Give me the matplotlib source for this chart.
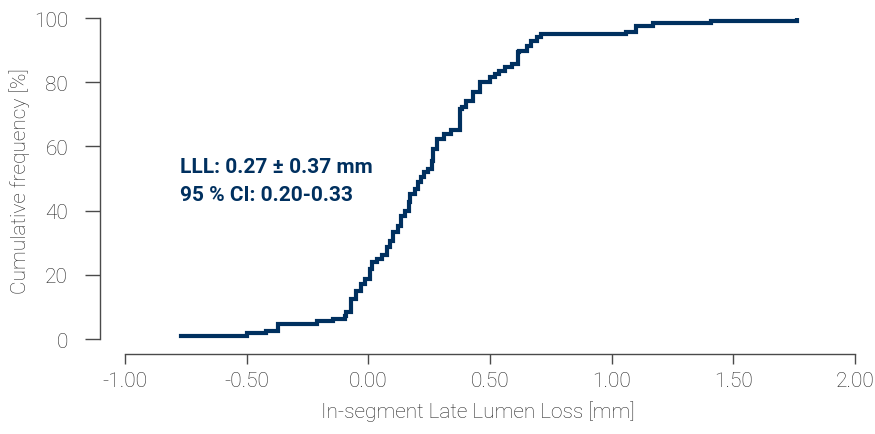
import matplotlib
matplotlib.use("Agg")
import matplotlib.pyplot as plt

# === DATOS ===
# posiciones de los escalones (LLL en mm) y frecuencia acumulada tras cada escalón (%)
lll = [-0.77, -0.50, -0.42, -0.37, -0.21, -0.146, -0.096, -0.092, -0.07, -0.05,
       -0.03, -0.014, 0.007, 0.014, 0.034, 0.055, 0.076, 0.09, 0.10, 0.12,
       0.135, 0.15, 0.165, 0.17, 0.19, 0.205, 0.215, 0.23, 0.245, 0.26,
       0.265, 0.28, 0.31, 0.34, 0.377, 0.385, 0.40, 0.43, 0.46, 0.50,
       0.52, 0.535, 0.56, 0.59, 0.615, 0.62, 0.65, 0.67, 0.695, 0.71,
       1.06, 1.10, 1.17, 1.41, 1.76]
freq = [1.0, 1.9, 2.6, 4.7, 5.5, 6.2, 7.3, 8.5, 12.5, 15.0,
        17.1, 18.7, 21.8, 23.9, 24.9, 26.2, 28.6, 30.6, 33.2, 35.3,
        38.4, 40.0, 42.6, 45.2, 46.7, 48.8, 50.4, 51.9, 53.0, 55.5,
        59.2, 62.3, 63.9, 65.2, 71.7, 72.2, 74.2, 76.9, 80.0, 81.5,
        82.6, 83.6, 84.7, 85.7, 89.3, 89.8, 91.4, 92.9, 94.0, 95.0,
        95.7, 97.4, 98.3, 99.2, 100.0]

x_ticks = [-1.0, -0.5, 0.0, 0.5, 1.0, 1.5, 2.0]
y_ticks = [0, 20, 40, 60, 80, 100]

navy = '#00305f'
gris = '#4a4a4a'
texto = '#262626'

plt.rcParams['font.family'] = ['Roboto', 'DejaVu Sans']

fig = plt.figure(figsize=(8.75, 4.35), dpi=100)
ax = fig.add_axes([100/875, 80/435, 755/875, 336/435])

ax.step(lll, freq, where='post', color=navy, linewidth=3.0, solid_joinstyle='miter')

ax.set_xlim(-1.103, 2.0)
ax.set_ylim(-4.67, 100)

for s in ['top', 'right']:
    ax.spines[s].set_visible(False)
ax.spines['left'].set_bounds(0, 100)
ax.spines['bottom'].set_bounds(-1.0, 2.0)
for s in ['left', 'bottom']:
    ax.spines[s].set_color(gris)
    ax.spines[s].set_linewidth(1.0)

ax.set_xticks(x_ticks)
ax.set_xticklabels([f'{v:.2f}' for v in x_ticks])
ax.set_yticks(y_ticks)
ax.tick_params(axis='y', length=11, width=1.0, color=gris, labelcolor=texto,
               labelsize=15, pad=12)
ax.tick_params(axis='x', length=7.5, width=1.0, color=gris, labelcolor=texto,
               labelsize=15, pad=5)
for lab in ax.get_xticklabels() + ax.get_yticklabels():
    lab.set_fontweight('light')

ax.set_xlabel('In-segment Late Lumen Loss [mm]', fontsize=15, color=texto,
              fontweight='light', labelpad=7)
fig.text(20/875, 1 - 181/435, 'Cumulative frequency [%]', rotation=90,
         ha='center', va='center', fontsize=15, color=texto, fontweight='light')

ax.text(-0.775, 53.6, 'LLL: 0.27 ± 0.37 mm', color=navy, fontsize=15,
        fontweight='bold', va='center', ha='left')
ax.text(-0.775, 44.9, '95 % CI: 0.20-0.33', color=navy, fontsize=15,
        fontweight='bold', va='center', ha='left')

fig.savefig('out.png', dpi=100)
